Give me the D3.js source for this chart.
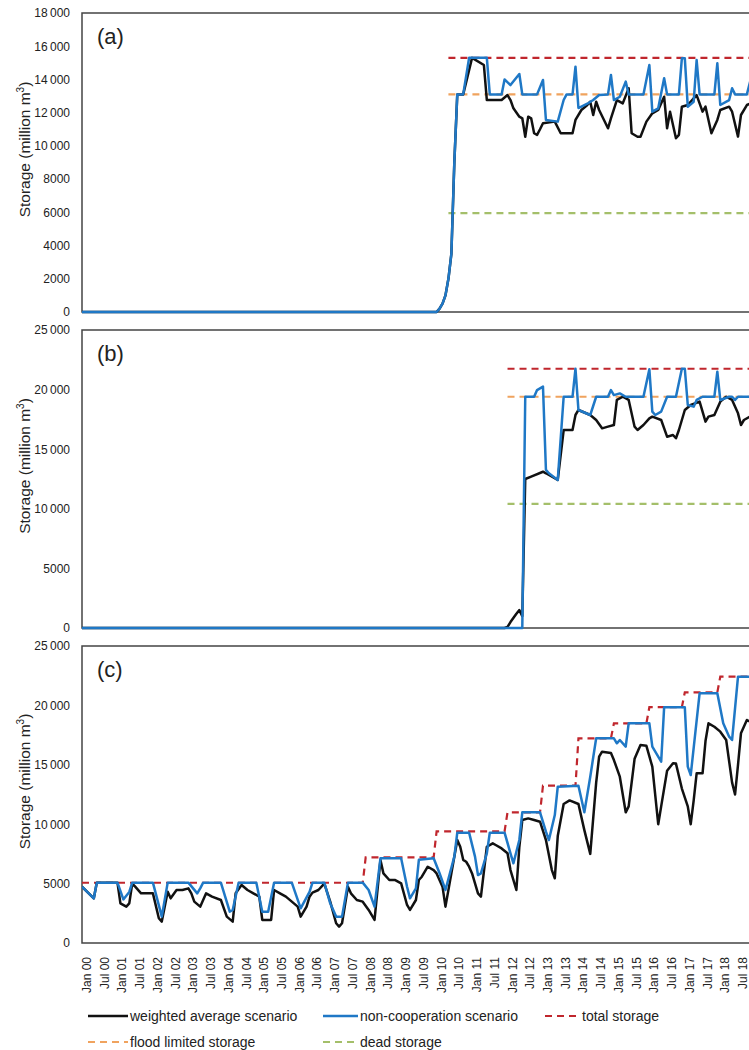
<!DOCTYPE html>
<html><head><meta charset="utf-8">
<script src="https://cdn.jsdelivr.net/npm/d3@7"></script>
<style>
html,body{margin:0;padding:0;background:#fff;overflow:hidden}
svg{display:block;font-family:Arial,"Liberation Sans",sans-serif}
</style></head><body>
<svg id="chart" width="749" height="1050"></svg>
<script>
// Month index 0 = Jan 2000; tick every 6 months
const tickMonths = d3.range(0, 223, 6);
const tickLabels = ["Jan 00","Jul 00","Jan 01","Jul 01","Jan 02","Jul 02","Jan 03","Jul 03","Jan 04","Jul 04",
  "Jan 05","Jul 05","Jan 06","Jul 06","Jan 07","Jul 07","Jan 08","Jul 08","Jan 09","Jul 09",
  "Jan 10","Jul 10","Jan 11","Jul 11","Jan 12","Jul 12","Jan 13","Jul 13","Jan 14","Jul 14",
  "Jan 15","Jul 15","Jan 16","Jul 16","Jan 17","Jul 17","Jan 18","Jul 18"];

const aTicks = [0,2000,4000,6000,8000,10000,12000,14000,16000,18000];
const bTicks = [0,5000,10000,15000,20000,25000];
const cTicks = [0,5000,10000,15000,20000,25000];

// Reservoir (a): [month, storage]
const aWeighted = [[0,0],[120,0],[121,200],[122,500],[123,1000],[124,2000],[125,3500],[126,9000],[127,13100],[129,13100],[132,15300],[136,14870],[137,12760],[142,12760],[144,13060],[145,12760],[146,12260],[148,11760],[149,11660],[150,10550],[151,11760],[152,11660],[153,10760],[154,10660],[155,11000],[156,11360],[160,11460],[162,10760],[166,10760],[167,11560],[169,12160],[171,12460],[172,12660],[173,11860],[174,12660],[175,12160],[178,11060],[179,11660],[181,12760],[183,12560],[185,13470],[186,10760],[188,10550],[189,10550],[191,11460],[193,11960],[195,12160],[197,12960],[198,11060],[199,12060],[201,10460],[202,10660],[203,12360],[205,12460],[207,12860],[208,13060],[210,12060],[211,12360],[212,11560],[213,10760],[215,11560],[216,12160],[219,12360],[220,12060],[222,10560],[223,11860],[225,12460],[227,12600]];
const aNonCoop = [[0,0],[120,0],[121,200],[122,500],[123,1000],[124,2000],[125,3500],[126,9000],[127,13100],[129,13100],[131,15300],[137,15300],[138,13100],[142,13100],[143,14000],[145,13660],[148,14330],[149,13100],[154,13100],[156,13970],[157,11560],[161,11460],[163,12760],[164,13100],[166,13100],[167,14770],[168,12280],[171,12540],[173,12760],[175,13060],[178,13100],[179,14270],[180,12760],[182,12960],[184,13870],[185,13100],[190,13100],[192,14870],[193,12060],[195,12260],[197,14070],[198,13100],[202,13100],[203,15270],[204,15270],[205,12360],[207,12660],[208,15170],[209,13100],[214,13100],[215,14970],[216,12460],[219,12760],[220,13470],[221,13100],[225,13100],[227,14500]];
const aTotal = 15300, aFlood = 13100, aDead = 5950, aStart = 124;

// Reservoir (b)
const bWeighted = [[0,0],[143,0],[144,100],[145,500],[147,1200],[148,1500],[149,1000],[150,12500],[152,12700],[156,13110],[157,12980],[161,12420],[163,16610],[166,16610],[167,17870],[168,18290],[172,17870],[174,17450],[176,16750],[178,16890],[180,17030],[181,19130],[183,19400],[185,19130],[187,16890],[188,16610],[190,17030],[192,17590],[193,17730],[196,17450],[198,16050],[200,16190],[201,15920],[202,16610],[204,18290],[206,18710],[209,18990],[211,17310],[212,17730],[214,17870],[216,18990],[218,19400],[220,19130],[222,18010],[223,17030],[224,17450],[227,17870]];
const bNonCoop = [[0,0],[149,0],[150,19400],[153,19400],[154,19960],[156,20250],[157,13260],[158,12980],[161,12420],[163,19400],[166,19400],[167,21750],[168,18290],[172,17870],[174,19400],[178,19400],[179,19960],[180,19540],[182,19680],[184,19400],[190,19400],[192,21700],[193,18150],[194,17870],[196,18150],[198,19400],[201,19400],[203,21750],[204,21750],[205,18710],[207,18570],[208,19130],[210,19400],[214,19400],[215,21500],[216,19130],[219,19400],[220,19400],[221,19130],[222,19400],[227,19400]];
const bTotal = 21750, bFlood = 19400, bDead = 10410, bStart = 144;

// Cascade (c)
const cWeighted = [[0,4740],[4,3760],[5,5080],[12,5080],[13,3340],[15,3060],[16,3340],[17,5000],[18,4740],[20,4180],[24,4180],[26,2080],[27,1800],[29,4320],[30,3760],[32,4460],[34,4460],[36,4600],[37,4180],[38,3480],[40,3060],[42,4180],[44,3900],[47,3620],[49,2220],[51,1800],[52,4180],[54,4880],[56,4460],[58,4180],[60,3900],[61,1940],[64,1940],[65,4460],[67,4180],[69,3900],[71,3480],[73,3060],[74,2220],[76,3060],[77,3900],[78,4240],[80,4460],[82,5000],[84,3480],[86,1660],[87,1380],[88,1660],[90,4740],[91,4180],[93,3620],[95,3480],[97,2780],[99,1940],[101,6990],[102,5860],[104,5300],[106,5300],[108,5020],[110,3200],[111,2780],[113,3620],[114,5300],[115,5580],[116,6000],[117,6420],[119,6140],[120,5860],[122,4740],[123,3060],[125,5860],[127,8670],[128,8100],[129,7000],[130,6840],[131,6420],[132,5860],[134,4180],[135,3900],[137,8100],[139,8390],[140,8250],[142,7960],[144,7550],[145,6140],[147,4460],[148,8100],[149,10350],[151,10490],[153,10350],[155,10210],[157,8670],[159,6140],[160,5450],[161,9000],[163,11700],[165,12000],[168,11700],[170,9500],[172,7500],[174,13500],[175,15680],[176,16100],[179,16000],[180,15400],[182,14000],[184,11000],[185,11500],[187,15500],[189,16670],[191,16600],[193,14840],[195,10000],[196,11500],[198,14500],[200,15130],[201,15100],[203,13000],[205,11500],[206,10000],[207,12000],[208,14280],[210,14280],[211,17000],[212,18490],[214,18200],[216,17790],[218,17090],[220,13500],[221,12500],[222,15000],[223,17650],[225,18770],[227,18500]];
const cNonCoop = [[0,4740],[4,3760],[5,5080],[12,5080],[14,3670],[16,4300],[17,5080],[24,5080],[27,2220],[29,5080],[36,5080],[39,4180],[40,4600],[41,5080],[47,5080],[50,2640],[51,2780],[53,5080],[59,5080],[61,2640],[63,2640],[65,5080],[71,5080],[74,2920],[77,4300],[78,5080],[82,5080],[84,3340],[86,2220],[88,2220],[90,5080],[95,5080],[97,4460],[99,3060],[101,7130],[108,7130],[110,4740],[111,3760],[113,4600],[114,7000],[119,7130],[121,5870],[123,4460],[126,7270],[127,9290],[131,9290],[133,7270],[134,5720],[135,5860],[137,7550],[138,9290],[143,9290],[145,7550],[146,6710],[148,8670],[149,11000],[155,11000],[157,9370],[158,8670],[160,10770],[161,13160],[168,13240],[170,11000],[172,14000],[174,17230],[180,17230],[181,16810],[182,17090],[184,16530],[185,18490],[192,18490],[193,16530],[196,15260],[197,19840],[204,19840],[205,14840],[206,14140],[209,21020],[215,21020],[217,18490],[219,17370],[220,17090],[222,22420],[227,22420]];
const cTotalYears = d3.range(2000, 2019);
const cTotalValues = [5070,5070,5070,5070,5070,5070,5070,5070,7200,7200,9400,9400,11000,13240,17230,18490,19850,21100,22420];

const seriesNames = ["weighted average scenario","non-cooperation scenario","total storage","flood limited storage","dead storage"];
const colors = {weighted:"#111111", noncoop:"#1f78c6", total:"#c0262d", flood:"#f0a35e", dead:"#a4bf6a"};

const svg = d3.select("#chart");
svg.append("rect").attr("width",749).attr("height",1050).attr("fill","#fff");

const x0 = 82, monthPx = 2.955, lastMonth = 227;
const x = d3.scaleLinear().domain([0, lastMonth]).range([x0, x0 + lastMonth * monthPx]);
const W = 749;

const fmt = v => v >= 10000 ? d3.format(",")(v).replace(",", "\u2009") : String(v);

const cTotal = [];
cTotalYears.forEach((yr, i) => {
  const m = (yr - 2000) * 12;
  cTotal.push([m, cTotalValues[i]]);
  cTotal.push([m + 11, cTotalValues[i]]);
});

const panels = [
  {label:"(a)", top:13, bottom:312, max:18000, ticks:aTicks, weighted:aWeighted, noncoop:aNonCoop,
   refs:[{v:aDead,c:"dead"},{v:aFlood,c:"flood"},{v:aTotal,c:"total"}], start:aStart},
  {label:"(b)", top:330, bottom:628, max:25000, ticks:bTicks, weighted:bWeighted, noncoop:bNonCoop,
   refs:[{v:bDead,c:"dead"},{v:bFlood,c:"flood"},{v:bTotal,c:"total"}], start:bStart},
  {label:"(c)", top:646, bottom:943, max:25000, ticks:cTicks, weighted:cWeighted, noncoop:cNonCoop,
   steps:cTotal}
];

panels.forEach(p => {
  const y = d3.scaleLinear().domain([0, p.max]).range([p.bottom, p.top]);
  const g = svg.append("g");
  const clipId = "clip" + p.label.replace(/\W/g, "");
  g.append("clipPath").attr("id", clipId).append("rect")
    .attr("x", x0).attr("y", p.top - 5).attr("width", W - x0).attr("height", p.bottom - p.top + 10);

  // frame: top, left, bottom
  g.append("path")
    .attr("d", `M${W},${p.top}H${x0}V${p.bottom}H${W}`)
    .attr("fill", "none").attr("stroke", "#444").attr("stroke-width", 1.5);

  // y axis labels
  const ax = g.append("g").attr("transform", `translate(${x0},0)`)
    .call(d3.axisLeft(y).tickValues(p.ticks).tickSize(0).tickPadding(12).tickFormat(fmt));
  ax.select(".domain").remove();
  ax.selectAll("text").attr("font-size", 12).attr("fill", "#222")
    .attr("font-family", "Arial, 'Liberation Sans', sans-serif");

  // y axis title
  const ty = (p.top + p.bottom) / 2 - 13;
  const t = g.append("text").attr("transform", `translate(30,${ty}) rotate(-90)`)
    .attr("text-anchor", "middle").attr("font-size", 15.5).attr("fill", "#222");
  t.append("tspan").text("Storage (million m");
  t.append("tspan").attr("font-size", 10).attr("dy", -6).text("3");
  t.append("tspan").attr("dy", 6).text(")");

  // panel label
  g.append("text").attr("x", 97).attr("y", p.top + 31).attr("font-size", 22).attr("fill", "#222").text(p.label);

  const plot = g.append("g").attr("clip-path", `url(#${clipId})`);
  const line = d3.line().x(d => x(d[0])).y(d => y(d[1]));

  if (p.refs) {
    p.refs.forEach(r => {
      plot.append("path").datum([[p.start, r.v], [lastMonth, r.v]])
        .attr("d", line).attr("fill", "none").attr("stroke", colors[r.c])
        .attr("stroke-width", 2.2).attr("stroke-dasharray", "7,5");
    });
  }
  if (p.steps) {
    plot.append("path").datum(p.steps).attr("d", line).attr("fill", "none")
      .attr("stroke", colors.total).attr("stroke-width", 2.2).attr("stroke-dasharray", "7,5");
  }
  plot.append("path").datum(p.weighted).attr("d", line).attr("fill", "none")
    .attr("stroke", colors.weighted).attr("stroke-width", 2.5).attr("stroke-linejoin", "round");
  plot.append("path").datum(p.noncoop).attr("d", line).attr("fill", "none")
    .attr("stroke", colors.noncoop).attr("stroke-width", 2.5).attr("stroke-linejoin", "round");
});

// x tick labels (rotated)
const xl = svg.append("g");
tickMonths.forEach((m, i) => {
  const px = x(m) + 5, py = 957;
  xl.append("text").attr("transform", `translate(${px},${py}) rotate(-90)`)
    .attr("text-anchor", "end").attr("dominant-baseline", "central")
    .attr("font-size", 12).attr("fill", "#222").text(tickLabels[i]);
});

// legend
const legend = svg.append("g").attr("font-size", 14).attr("fill", "#222");
const items = [
  {name:seriesNames[0], c:"weighted", dash:null, x:88, y:1016},
  {name:seriesNames[1], c:"noncoop", dash:null, x:323, y:1016},
  {name:seriesNames[2], c:"total", dash:"7,5", x:545, y:1016},
  {name:seriesNames[3], c:"flood", dash:"7,5", x:88, y:1042},
  {name:seriesNames[4], c:"dead", dash:"7,5", x:323, y:1042}
];
items.forEach(it => {
  const len = it.c === "weighted" || it.c === "flood" ? 40 : 35;
  legend.append("line").attr("x1", it.x).attr("x2", it.x + len).attr("y1", it.y).attr("y2", it.y)
    .attr("stroke", colors[it.c]).attr("stroke-width", it.dash ? 2.2 : 2.5)
    .attr("stroke-dasharray", it.dash);
  legend.append("text").attr("x", it.x + len + 2).attr("y", it.y).attr("dy", "0.35em").text(it.name);
});
</script>
</body></html>
